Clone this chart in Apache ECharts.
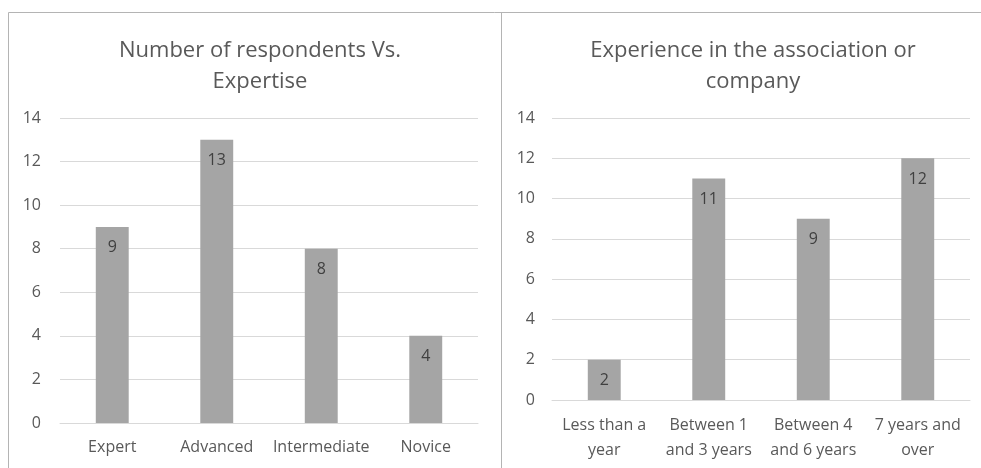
<!DOCTYPE html>
<html>
<head>
<meta charset="utf-8">
<script src="https://cdn.jsdelivr.net/npm/echarts@6/dist/echarts.min.js"></script>
<style>
  html, body { margin: 0; padding: 0; background: #fff; }
  #chart { width: 981px; height: 468px; }
</style>
</head>
<body>
<div id="chart"></div>
<script>
// Survey results: respondents by expertise level
const expertiseTitle = 'Number of respondents Vs.\nExpertise';
const expertiseCategories = ['Expert', 'Advanced', 'Intermediate', 'Novice'];
const expertiseValues = [9, 13, 8, 4];

// Survey results: time spent in the association or company
const tenureTitle = 'Experience in the association or\ncompany';
const tenureCategories = ['Less than a\nyear', 'Between 1\nand 3 years', 'Between 4\nand 6 years', '7 years and\nover'];
const tenureValues = [2, 11, 9, 12];

const yTicks = { min: 0, max: 14, interval: 2 };

const FONT = '"Open Sans", "Noto Sans", sans-serif';
const TEXT = '#595959';
const GRID_LINE = '#d9d9d9';
const BAR = '#a5a5a5';
const FRAME = '#b4b4b4';
const LABEL_SIZE = 16;

function valueAxis(gridIndex, margin) {
  return {
    type: 'value', gridIndex,
    min: yTicks.min, max: yTicks.max, interval: yTicks.interval,
    axisLine: { show: false }, axisTick: { show: false },
    axisLabel: { color: TEXT, fontFamily: FONT, fontSize: LABEL_SIZE, margin },
    splitLine: { lineStyle: { color: GRID_LINE, width: 1 } }
  };
}

function categoryAxis(gridIndex, data, margin) {
  return {
    type: 'category', gridIndex, data,
    axisLine: { lineStyle: { color: GRID_LINE } },
    axisTick: { show: false },
    axisLabel: { color: TEXT, fontFamily: FONT, fontSize: LABEL_SIZE, margin, lineHeight: 25, interval: 0 }
  };
}

function barSeries(index, data) {
  return {
    type: 'bar', xAxisIndex: index, yAxisIndex: index, data,
    barWidth: '31.5%',
    itemStyle: { color: BAR },
    label: { show: true, position: 'insideTop', distance: 13, color: '#404040', fontFamily: FONT, fontSize: LABEL_SIZE },
    silent: true
  };
}

const chart = echarts.init(document.getElementById('chart'), null, { renderer: 'canvas' });
chart.setOption({
  backgroundColor: '#ffffff',
  animation: false,
  title: [
    { text: expertiseTitle, left: 255, top: 30, textAlign: 'center',
      textStyle: { color: TEXT, fontFamily: FONT, fontSize: 22, fontWeight: 'normal', lineHeight: 31 } },
    { text: tenureTitle, left: 748, top: 30, textAlign: 'center',
      textStyle: { color: TEXT, fontFamily: FONT, fontSize: 22, fontWeight: 'normal', lineHeight: 31 } }
  ],
  grid: [
    { left: 60, top: 118, width: 418, bottom: 45 },
    { left: 552, top: 118, width: 418, bottom: 68 }
  ],
  xAxis: [categoryAxis(0, expertiseCategories, 12), categoryAxis(1, tenureCategories, 13)],
  yAxis: [valueAxis(0, 19), valueAxis(1, 17)],
  series: [barSeries(0, expertiseValues), barSeries(1, tenureValues)],
  graphic: [
    { type: 'line', shape: { x1: 8.5, y1: 12.5, x2: 981, y2: 12.5 }, style: { stroke: FRAME, lineWidth: 1 } },
    { type: 'line', shape: { x1: 8.5, y1: 12.5, x2: 8.5, y2: 468 }, style: { stroke: FRAME, lineWidth: 1 } },
    { type: 'line', shape: { x1: 501.5, y1: 12.5, x2: 501.5, y2: 468 }, style: { stroke: FRAME, lineWidth: 1 } }
  ]
});
</script>
</body>
</html>
